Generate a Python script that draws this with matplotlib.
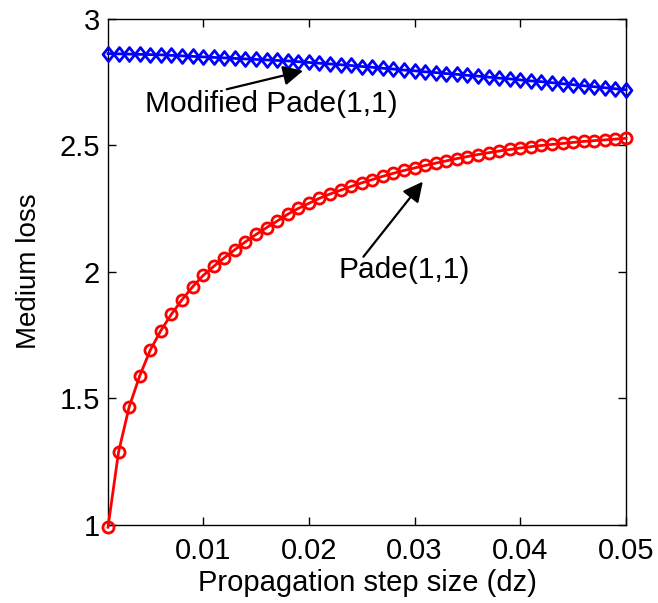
import numpy as np
import matplotlib
matplotlib.use("Agg")
import matplotlib.pyplot as plt
from matplotlib.path import Path

plt.rcParams['font.family'] = ['Liberation Sans', 'DejaVu Sans']

# Propagation step size dz = 0.001 ... 0.05
dz = [0.001 * k for k in range(1, 51)]

pade = [0.99, 1.287, 1.465, 1.588, 1.690, 1.767, 1.832, 1.889, 1.940, 1.985,
        2.021, 2.055, 2.087, 2.118, 2.147, 2.174, 2.200, 2.227, 2.250, 2.270,
        2.290, 2.307, 2.322, 2.337, 2.351, 2.364, 2.377, 2.389, 2.400, 2.410,
        2.420, 2.429, 2.438, 2.447, 2.455, 2.463, 2.470, 2.477, 2.483, 2.489,
        2.494, 2.499, 2.503, 2.507, 2.511, 2.515, 2.518, 2.521, 2.524, 2.527]

modified_pade = [2.862, 2.861, 2.860, 2.859, 2.858, 2.857, 2.855, 2.853, 2.851, 2.849,
                 2.847, 2.845, 2.843, 2.841, 2.839, 2.837, 2.835, 2.833, 2.830, 2.827,
                 2.824, 2.821, 2.818, 2.815, 2.811, 2.808, 2.804, 2.801, 2.797, 2.794,
                 2.790, 2.787, 2.783, 2.780, 2.776, 2.773, 2.769, 2.765, 2.762, 2.758,
                 2.754, 2.751, 2.747, 2.743, 2.739, 2.735, 2.731, 2.727, 2.723, 2.719]

xticks = [0.01, 0.02, 0.03, 0.04, 0.05]
xticklabels = ['0.01', '0.02', '0.03', '0.04', '0.05']
yticks = [1, 1.5, 2, 2.5, 3]
yticklabels = ['1', '1.5', '2', '2.5', '3']

fig = plt.figure(figsize=(6.58, 6.03), dpi=100)
ax = fig.add_axes([0.1641, 0.1299, 0.9514 - 0.1641, 0.969 - 0.1299])

diamond = Path([(0, 1), (0.78, 0), (0, -1), (-0.78, 0), (0, 1)],
               [Path.MOVETO, Path.LINETO, Path.LINETO, Path.LINETO, Path.CLOSEPOLY])

ax.plot(dz, modified_pade, color='#0000ff', lw=2, marker=diamond, ms=10,
        mfc='none', mec='#0000ff', mew=2, clip_on=False, zorder=3)
ax.plot(dz, pade, color='#ff0000', lw=2, marker='o', ms=8,
        mfc='none', mec='#ff0000', mew=2, clip_on=False, zorder=3)

ax.set_xlim(0.001, 0.05)
ax.set_ylim(1, 3)
ax.set_xticks(xticks)
ax.set_xticklabels(xticklabels)
ax.set_yticks(yticks)
ax.set_yticklabels(yticklabels)
ax.tick_params(direction='in', length=6, width=1, top=True, right=True,
               labelsize=21, colors='black')
ax.tick_params(axis='x', pad=9)
ax.tick_params(axis='y', pad=6)
for s in ax.spines.values():
    s.set_linewidth(1)
    s.set_color('black')

ax.set_xlabel('Propagation step size (dz)', fontsize=21, labelpad=3)
ax.set_ylabel('Medium loss', fontsize=20, labelpad=12)

arrow_kw = dict(arrowstyle='-|>', color='black', lw=1.6, mutation_scale=30,
                shrinkA=0, shrinkB=0)
ax.annotate('', xy=(0.01945, 2.794), xytext=(0.01223, 2.721), arrowprops=arrow_kw)
ax.annotate('', xy=(0.03078, 2.356), xytext=(0.02516, 2.059), arrowprops=arrow_kw)
ax.text(0.01647, 2.663, 'Modified Pade(1,1)', fontsize=21.5, ha='center', va='center')
ax.text(0.0290, 2.007, 'Pade(1,1)', fontsize=21.5, ha='center', va='center')

fig.savefig('out.png', dpi=100, facecolor='white')
